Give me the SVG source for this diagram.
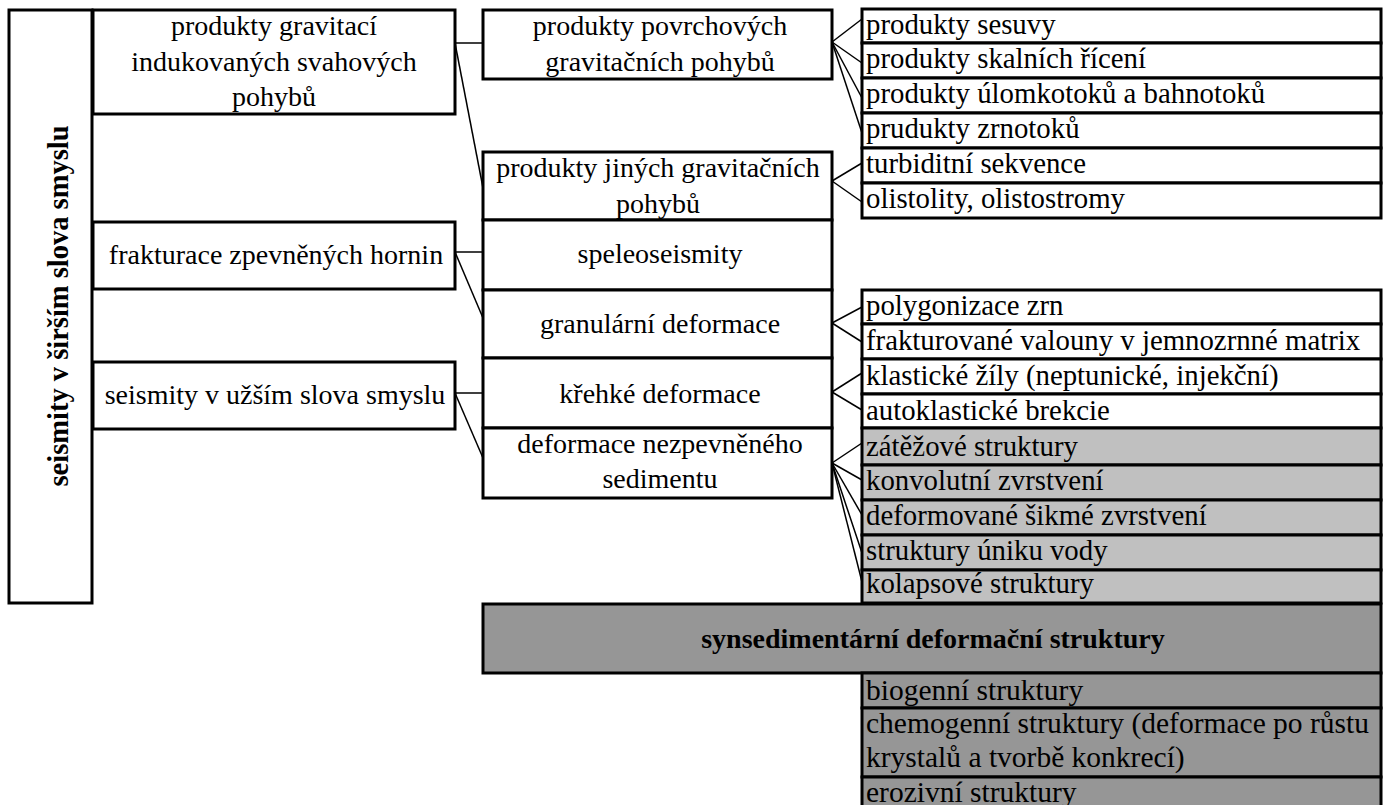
<svg xmlns="http://www.w3.org/2000/svg" width="1387" height="805" viewBox="0 0 1387 805">
<style>
.box{fill:#fff;stroke:#000;stroke-width:3}
.lg{fill:#c0c0c0}
.dg{fill:#969696}
text{font-family:'Liberation Serif','Tinos','DejaVu Serif',serif;font-weight:400;font-size:28px;fill:#000}
.c{text-anchor:middle}
.r{font-size:28.8px}
.r2{font-size:29.5px}
.b{font-weight:700}
#connectors line{stroke:#000;stroke-width:1.5}
</style>
<rect width="1387" height="805" fill="#fff"/>

<g id="root">
<rect class="box" x="9" y="10" width="83" height="593"/>
<text class="b c" style="font-size:28.5px" transform="translate(68,306) rotate(-90)">seismity v širším slova smyslu</text>
</g>

<g id="n-gravitaci">
<rect class="box" x="93" y="10" width="362" height="104"/>
<text class="c" x="274" y="35">produkty gravitací</text>
<text class="c" x="274" y="71">indukovaných svahových</text>
<text class="c" x="274" y="106">pohybů</text>
</g>
<g id="n-frakturace">
<rect class="box" x="93" y="222" width="362" height="67"/>
<text class="c" x="276" y="264">frakturace zpevněných hornin</text>
</g>
<g id="n-seismity-uzsi">
<rect class="box" x="93" y="362" width="362" height="67"/>
<text class="c" x="275" y="404">seismity v užším slova smyslu</text>
</g>

<g id="n-povrchovych">
<rect class="box" x="483" y="10" width="349" height="69"/>
<text class="c" x="660" y="35">produkty povrchových</text>
<text class="c" x="660" y="71">gravitačních pohybů</text>
</g>
<g id="n-jinych">
<rect class="box" x="483" y="152" width="349" height="68"/>
<text class="c" x="658" y="177">produkty jiných gravitačních</text>
<text class="c" x="658" y="213">pohybů</text>
</g>
<g id="n-speleo">
<rect class="box" x="483" y="220" width="349" height="70"/>
<text class="c" x="660" y="263">speleoseismity</text>
</g>
<g id="n-granularni">
<rect class="box" x="483" y="290" width="349" height="68"/>
<text class="c" x="660" y="333">granulární deformace</text>
</g>
<g id="n-krehke">
<rect class="box" x="483" y="358" width="349" height="70"/>
<text class="c" x="660" y="403">křehké deformace</text>
</g>
<g id="n-nezpevneneho">
<rect class="box" x="483" y="428" width="349" height="70"/>
<text class="c" x="660" y="453">deformace nezpevněného</text>
<text class="c" x="660" y="488">sedimentu</text>
</g>

<g id="n-sesuvy"><rect class="box" x="862" y="9" width="519" height="34"/><text class="r" x="866" y="34">produkty sesuvy</text></g>
<g id="n-riceni"><rect class="box" x="862" y="43" width="519" height="35"/><text class="r" x="866" y="68">produkty skalních řícení</text></g>
<g id="n-ulomkotoku"><rect class="box" x="862" y="78" width="519" height="35"/><text class="r" x="866" y="103">produkty úlomkotoků a bahnotoků</text></g>
<g id="n-zrnotoku"><rect class="box" x="862" y="113" width="519" height="35"/><text class="r" x="866" y="138">prudukty zrnotoků</text></g>
<g id="n-turbiditni"><rect class="box" x="862" y="148" width="519" height="35"/><text class="r" x="866" y="173">turbiditní sekvence</text></g>
<g id="n-olistolity"><rect class="box" x="862" y="183" width="519" height="35"/><text class="r" x="866" y="208">olistolity, olistostromy</text></g>

<g id="n-polygonizace"><rect class="box" x="862" y="290" width="519" height="34"/><text class="r" x="866" y="315">polygonizace zrn</text></g>
<g id="n-valouny"><rect class="box" x="862" y="324" width="519" height="35"/><text class="r" x="866" y="350">frakturované valouny v jemnozrnné matrix</text></g>
<g id="n-klasticke"><rect class="box" x="862" y="359" width="519" height="35"/><text class="r" x="866" y="385">klastické žíly (neptunické, injekční)</text></g>
<g id="n-brekcie"><rect class="box" x="862" y="394" width="519" height="34"/><text class="r" x="866" y="420">autoklastické brekcie</text></g>
<g id="n-zatezove"><rect class="box lg" x="862" y="428" width="519" height="37"/><text class="r" x="866" y="456">zátěžové struktury</text></g>
<g id="n-konvolutni"><rect class="box lg" x="862" y="465" width="519" height="35"/><text class="r" x="866" y="490">konvolutní zvrstvení</text></g>
<g id="n-sikme"><rect class="box lg" x="862" y="500" width="519" height="35"/><text class="r" x="866" y="525">deformované šikmé zvrstvení</text></g>
<g id="n-uniku"><rect class="box lg" x="862" y="535" width="519" height="35"/><text class="r" x="866" y="560">struktury úniku vody</text></g>
<g id="n-kolapsove"><rect class="box lg" x="862" y="570" width="519" height="33"/><text class="r" x="866" y="593">kolapsové struktury</text></g>

<g id="n-synsedimentarni">
<rect class="box dg" x="483" y="604" width="898" height="69"/>
<text class="b c" x="933" y="648">synsedimentární deformační struktury</text>
</g>
<g id="n-biogenni"><rect class="box dg" x="862" y="673" width="519" height="35"/><text class="r2" x="866" y="700">biogenní struktury</text></g>
<g id="n-chemogenni"><rect class="box dg" x="862" y="708" width="519" height="69"/><text class="r2" x="866" y="733">chemogenní struktury (deformace po růstu</text><text class="r2" x="866" y="767">krystalů a tvorbě konkrecí)</text></g>
<g id="n-erozivni"><rect class="box dg" x="862" y="777" width="519" height="40"/><text class="r2" x="866" y="802">erozivní struktury</text></g>

<g id="connectors">
<line x1="455" y1="43" x2="483" y2="43"/>
<line x1="455" y1="43" x2="483" y2="188"/>
<line x1="455" y1="252" x2="483" y2="252"/>
<line x1="455" y1="252" x2="483" y2="318"/>
<line x1="455" y1="393" x2="483" y2="393"/>
<line x1="455" y1="393" x2="483" y2="458"/>
<line x1="832" y1="42" x2="862" y2="19"/>
<line x1="832" y1="42" x2="862" y2="63"/>
<line x1="832" y1="42" x2="862" y2="98"/>
<line x1="832" y1="42" x2="862" y2="133"/>
<line x1="832" y1="181" x2="862" y2="163"/>
<line x1="832" y1="181" x2="862" y2="202"/>
<line x1="832" y1="323" x2="862" y2="307"/>
<line x1="832" y1="323" x2="862" y2="342"/>
<line x1="832" y1="392" x2="862" y2="373"/>
<line x1="832" y1="392" x2="862" y2="410"/>
<line x1="832" y1="463" x2="862" y2="443"/>
<line x1="832" y1="463" x2="862" y2="480"/>
<line x1="832" y1="463" x2="862" y2="515"/>
<line x1="832" y1="463" x2="862" y2="553"/>
<line x1="832" y1="463" x2="862" y2="582"/>
</g>
</svg>
